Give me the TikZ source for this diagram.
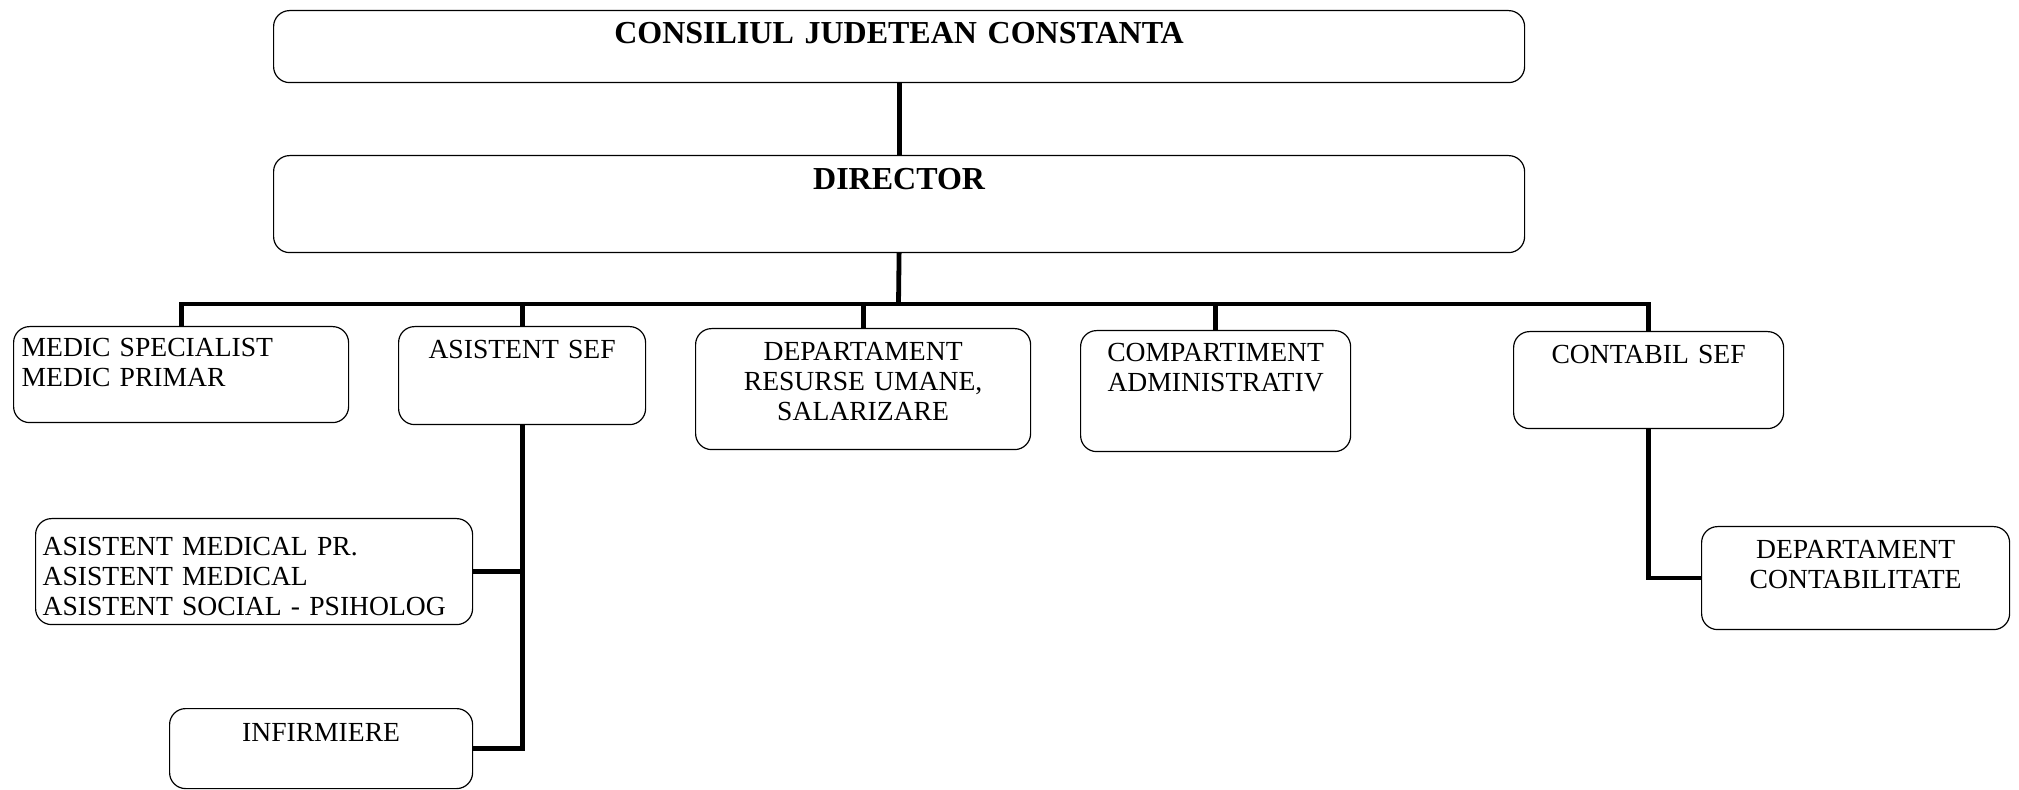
\documentclass[tikz,border=0pt]{standalone}
\usepackage{fontspec}
\setmainfont{Liberation Serif}
\tikzset{%
    unit/.style={draw,rounded corners=8pt,anchor=north west,inner xsep=4pt,inner ysep=0pt,
        line width=0.6pt,align=center,font=\fontsize{13.8}{15}\selectfont}
}

\begin{document}
\begin{tikzpicture}[
        x=1pt,y=-1pt,
        head/.style={unit,font=\fontsize{16}{19}\selectfont\bfseries},
        link/.style={line width=2.4pt},
        ]
        \useasboundingbox (0,0) rectangle (1009.5,395);

        \node[head, text width=617.5pt, text height=16.4pt, text depth=19.6pt] (cj) at (136.5,5) {CONSILIUL JUDETEAN CONSTANTA};
        \node[head, text width=617.5pt, text height=17.1pt, text depth=31.4pt] (dir) at (136.5,77.5) {DIRECTOR};

        \node[unit, align=left, text width=159.5pt, text height=15.1pt, text depth=32.9pt] (medic) at (6.5,163) {MEDIC SPECIALIST\\MEDIC PRIMAR};
        \node[unit, text width=115.5pt, text height=16.1pt, text depth=32.9pt] (asef) at (199,163) {ASISTENT SEF};
        \node[unit, text width=159.5pt, text height=16.1pt, text depth=44.4pt] (resurse) at (347.5,164) {DEPARTAMENT\\RESURSE UMANE,\\SALARIZARE};
        \node[unit, text width=127pt, text height=15.6pt, text depth=44.9pt] (compart) at (540,165) {COMPARTIMENT\\ADMINISTRATIV};
        \node[unit, text width=127pt, text height=16.1pt, text depth=32.4pt] (contabil) at (756.5,165.5) {CONTABIL SEF};

        \node[unit, align=left, inner xsep=3.5pt, text width=211.5pt, text height=18.6pt, text depth=34.4pt] (asmed) at (17.5,259) {ASISTENT MEDICAL PR.\\ASISTENT MEDICAL\\ASISTENT SOCIAL - PSIHOLOG};
        \node[unit, text width=143.5pt, text height=16.6pt, text depth=23.4pt] (infirm) at (84.5,354) {INFIRMIERE};
        \node[unit, text width=146pt, text height=16.1pt, text depth=35.4pt] (deptcont) at (850.5,263) {DEPARTAMENT\\CONTABILITATE};

        % legaturi
        \coordinate (bus) at (449.25,152);
        \draw[link] (cj.south) -- (dir.north);
        \draw[link] (dir.south) -- (bus);
        \foreach \n in {medic,asef,resurse,compart,contabil}
            \draw[link] (\n.north) |- (bus);
        \draw[link] (asef.south) |- (infirm.east);
        \draw[link] (asmed.east) -- (asmed.east -| asef.south);
        \draw[link] (contabil.south) |- (deptcont.west);
    \end{tikzpicture}
\end{document}
